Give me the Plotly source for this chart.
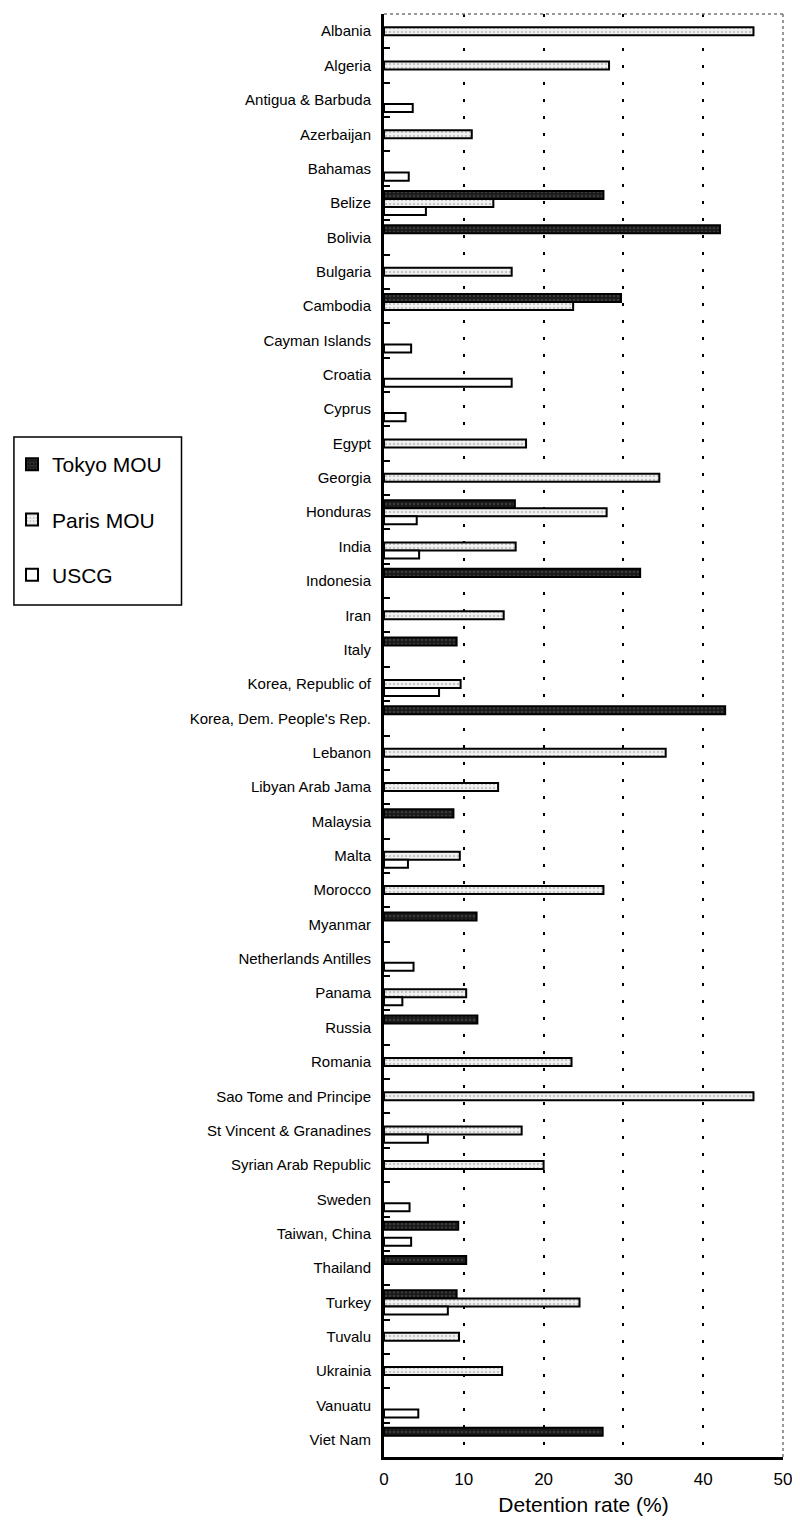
import plotly.graph_objects as go

countries = ["Albania", "Algeria", "Antigua & Barbuda", "Azerbaijan", "Bahamas", "Belize",
             "Bolivia", "Bulgaria", "Cambodia", "Cayman Islands", "Croatia", "Cyprus", "Egypt",
             "Georgia", "Honduras", "India", "Indonesia", "Iran", "Italy", "Korea, Republic of",
             "Korea, Dem. People's Rep.", "Lebanon", "Libyan Arab Jama", "Malaysia", "Malta",
             "Morocco", "Myanmar", "Netherlands Antilles", "Panama", "Russia", "Romania",
             "Sao Tome and Principe", "St Vincent & Granadines", "Syrian Arab Republic", "Sweden",
             "Taiwan, China", "Thailand", "Turkey", "Tuvalu", "Ukrainia", "Vanuatu", "Viet Nam"]

tokyo = [None, None, None, None, None, 27.5,
         42.1, None, 29.7, None, None, None, None,
         None, 16.4, None, 32.1, None, 9.1, None,
         42.75, None, None, 8.7, None,
         None, 11.6, None, None, 11.7, None,
         None, None, None, None,
         9.3, 10.3, 9.1, None, None, None, 27.4]

paris = [46.3, 28.2, None, 11.0, None, 13.7,
         None, 16.0, 23.7, None, None, None, 17.8,
         34.5, 27.9, 16.5, None, 15.0, None, 9.6,
         None, 35.3, 14.3, None, 9.5,
         27.5, None, None, 10.3, None, 23.5,
         46.3, 17.25, 20.0, None,
         None, None, 24.5, 9.4, 14.8, None, None]

uscg = [None, None, 3.6, None, 3.1, 5.25,
        None, None, None, 3.4, 16.0, 2.7, None,
        None, 4.1, 4.4, None, None, None, 6.9,
        None, None, None, None, 3.0,
        None, None, 3.7, 2.3, None, None,
        None, 5.5, None, 3.2,
        3.4, None, 8.0, None, None, 4.3, None]

x_ticks = [0, 10, 20, 30, 40, 50]

font = "Liberation Sans, Arial, sans-serif"

fig = go.Figure()
fig.add_trace(go.Bar(
    y=countries, x=tokyo, name="Tokyo MOU", orientation="h", legendgroup="t",
    marker=dict(color="#222222", line=dict(color="black", width=2),
                pattern=dict(shape=".", fgcolor="#5a5a5a", bgcolor="#1a1a1a", size=4, solidity=0.3))))
fig.add_trace(go.Bar(
    y=countries, x=paris, name="Paris MOU", orientation="h", legendgroup="p",
    marker=dict(color="#e6e6e6", line=dict(color="black", width=2),
                pattern=dict(shape=".", fgcolor="#9a9a9a", bgcolor="#f2f2f2", size=4, solidity=0.3))))
fig.add_trace(go.Bar(
    y=countries, x=uscg, name="USCG", orientation="h", legendgroup="u",
    marker=dict(color="white", line=dict(color="black", width=2))))

# page has an 8px body margin; plot area targeted at page x 383-783, y 14-1457
fig.update_layout(
    width=792, height=1517,
    margin=dict(l=375, r=17, t=6, b=68),
    paper_bgcolor="white", plot_bgcolor="white",
    barmode="group", bargap=0.3, bargroupgap=0,
    font=dict(family=font, color="black"),
    showlegend=True,
    legend=dict(x=-0.9275, y=0.702, xanchor="left", yanchor="top",
                borderwidth=0, bgcolor="rgba(0,0,0,0)",
                font=dict(size=21, family=font), traceorder="grouped",
                tracegroupgap=25, itemwidth=30),
)

fig.update_xaxes(
    range=[0, 50], tickvals=x_ticks, ticktext=[str(v) for v in x_ticks],
    tickfont=dict(size=17), showline=True, linecolor="black", linewidth=3,
    showgrid=True, gridcolor="black", gridwidth=1.5, griddash="3px,14px",
    zeroline=False, ticks="", automargin=False, ticklabelstandoff=5,
    title=dict(text="Detention rate (%)", font=dict(size=21), standoff=9),
)
fig.update_yaxes(
    autorange="reversed", type="category", tickfont=dict(size=15),
    showline=True, linecolor="black", linewidth=3,
    ticks="inside", tickson="boundaries", ticklen=6, tickwidth=2, tickcolor="black",
    showgrid=False, ticklabelstandoff=7, automargin=False,
)

# dotted top and right frame edges
fig.add_shape(type="line", xref="paper", yref="paper", x0=0, x1=1, y0=1, y1=1,
              line=dict(color="#777777", width=1.5, dash="dot"))
fig.add_shape(type="line", xref="paper", yref="paper", x0=1, x1=1, y0=0, y1=1,
              line=dict(color="#777777", width=1.5, dash="dot"))
# legend frame
fig.add_shape(type="rect", xref="paper", yref="paper", x0=-0.9275, x1=-0.5075,
              y0=0.5904, y1=0.7069, line=dict(color="black", width=1.5), layer="above")

fig.write_html("out.html")
